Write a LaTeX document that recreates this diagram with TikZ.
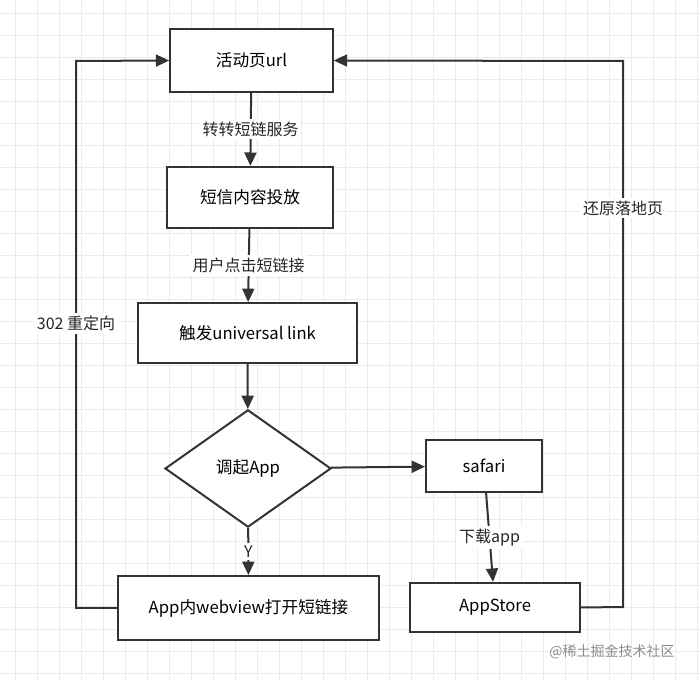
\documentclass[tikz,border=0pt]{standalone}
\usepackage{fontspec}
\setmainfont{Noto Sans CJK SC}
\usetikzlibrary{shapes.geometric,arrows.meta}
\definecolor{ln}{HTML}{333333}
\begin{document}
\begin{tikzpicture}[x=0.75pt,y=-0.75pt,
  box/.style={draw=ln,line width=1.5pt,fill=white,inner sep=0pt,font=\fontsize{12.5}{14}\selectfont},
  lab/.style={fill=white,inner sep=2pt,font=\fontsize{12}{14}\selectfont,text=black!85},
  arr/.style={draw=ln,line width=1.5pt,-{Triangle[length=10pt,width=9pt]}}]
\useasboundingbox (0,0) rectangle (700,680);
\fill[white] (0,0) rectangle (700,680);
\foreach \i in {0,...,31} {\draw[black!8,line width=0.6pt] (15+22*\i,0) -- (15+22*\i,680);}
\foreach \i in {0,...,30} {\draw[black!8,line width=0.6pt] (0,13+22*\i) -- (700,13+22*\i);}
\node[box,minimum width=122pt,minimum height=47pt] (a) at (251.5,60.5) {活动页url};
\node[box,minimum width=124.5pt,minimum height=46pt] (b) at (250,197.5) {短信内容投放};
\node[box,minimum width=164pt,minimum height=45pt] (c) at (247.5,333) {触发universal link};
\node[diamond,box,minimum width=124.5pt,minimum height=88pt,aspect=1.42] (d) at (248,468.5) {调起App};
\node[box,minimum width=196pt,minimum height=48pt] (e) at (248.5,608) {App内webview打开短链接};
\node[box,minimum width=87pt,minimum height=39pt] (s) at (484,466) {safari};
\node[box,minimum width=127.5pt,minimum height=37pt] (f) at (495,607.5) {AppStore};
\draw[arr] (a) -- node[lab]{转转短链服务} (b);
\draw[arr] (b) -- node[lab]{用户点击短链接} (c);
\draw[arr] (c) -- (d);
\draw[arr] (d) -- node[lab]{Y} (e);
\draw[arr] (d) -- (s);
\draw[arr] (s) -- node[lab]{下载app} (f);
\coordinate (l1) at (76,608); \coordinate (l2) at (76,61);
\coordinate (r1) at (623,607); \coordinate (r2) at (623,61);
\draw[arr] (e.west) -- (l1) -- node[lab,pos=0.52]{302 重定向} (l2) -- (a.west);
\draw[arr] (f.east) -- (r1) -- node[lab,pos=0.73]{还原落地页} (r2) -- (a.east);
\node[font=\fontsize{10.5}{12}\selectfont,text=black!45] (w) at (612,652) {@稀土掘金技术社区};
\end{tikzpicture}
\end{document}
